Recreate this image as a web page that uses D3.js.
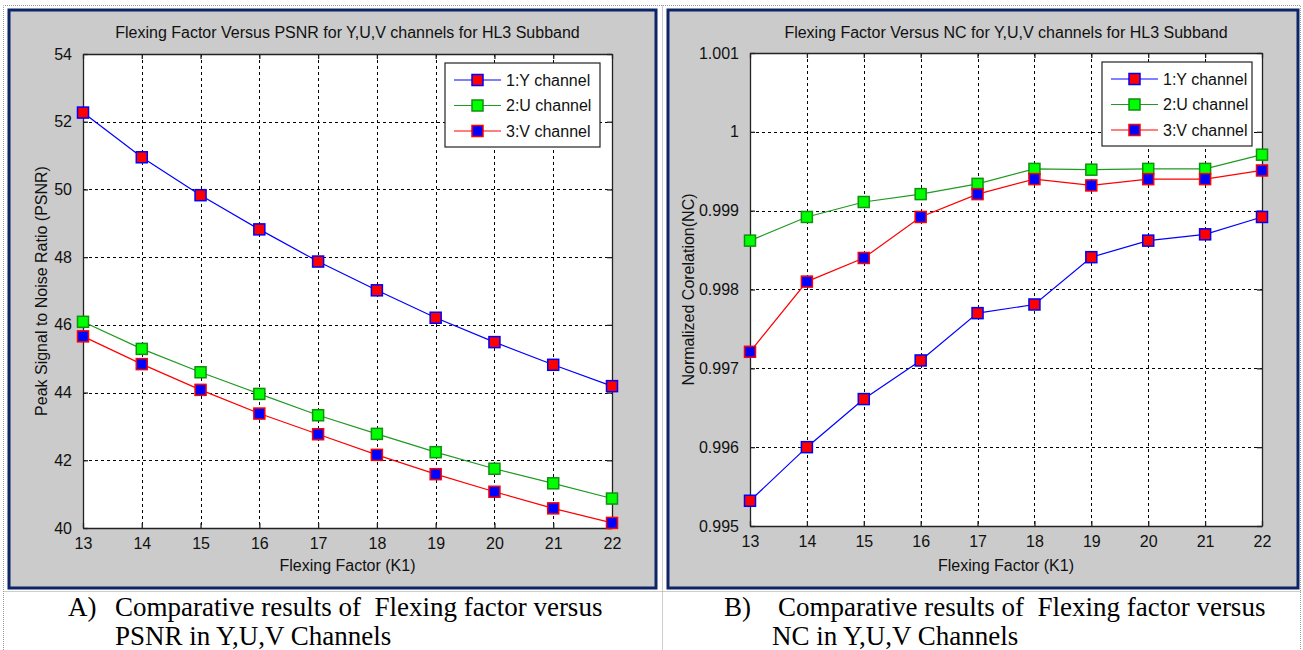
<!DOCTYPE html>
<meta charset="utf-8">
<style>
body { margin: 0; background: #fff; }
svg text { font-family: "Liberation Sans", Arial, sans-serif; fill: #111; }
.cap { font-family: "Liberation Serif", "Times New Roman", serif; font-size: 27px; fill: #000; white-space: pre; }
.grid line { stroke: #000; stroke-dasharray: 3,3; stroke-width: 1; }
</style>
<body>
<svg id="fig" width="1303" height="650"></svg>
<script src="https://d3js.org/d3.v7.min.js"></script>
<script>
var factors = [13, 14, 15, 16, 17, 18, 19, 20, 21, 22];

var psnrY = [52.27, 50.95, 49.83, 48.82, 47.87, 47.02, 46.21, 45.49, 44.82, 44.19];
var psnrU = [46.09, 45.29, 44.60, 43.96, 43.33, 42.78, 42.24, 41.75, 41.32, 40.87];
var psnrV = [45.66, 44.84, 44.08, 43.38, 42.77, 42.16, 41.59, 41.07, 40.58, 40.15];

var ncY = [0.99532, 0.99600, 0.99661, 0.99710, 0.99770, 0.99781, 0.99841, 0.99862, 0.99870, 0.99892];
var ncU = [0.99862, 0.99892, 0.99911, 0.99921, 0.99934, 0.99953, 0.99952, 0.99953, 0.99953, 0.99971];
var ncV = [0.99721, 0.99810, 0.99840, 0.99892, 0.99921, 0.99940, 0.99932, 0.99940, 0.99940, 0.99951];

var psnrTicks = [40, 42, 44, 46, 48, 50, 52, 54];
var ncTicks = [0.995, 0.996, 0.997, 0.998, 0.999, 1, 1.001];
var ncTickLabels = ["0.995", "0.996", "0.997", "0.998", "0.999", "1", "1.001"];

var seriesNames = ["1:Y channel", "2:U channel", "3:V channel"];
var lineColors = ["#0000ff", "#1f9a1f", "#ff0000"];
var faceColors = ["#ff0000", "#00ff00", "#0000ff"];
var edgeColors = ["#0000ff", "#119011", "#ff0000"];

var svg = d3.select("#fig");

// table-like dotted borders around the figure
var dots = svg.append("g").attr("stroke", "#9a9a9a").attr("stroke-dasharray", "1,1").attr("fill", "none");
dots.append("path").attr("d", "M3.5,650 V5.5 H1300.5 V650");
dots.append("path").attr("d", "M662.5,5.5 V650");
dots.append("path").attr("d", "M3.5,591.5 H1300.5");

function drawPanel(p) {
	// gray matlab figure with navy frame
	svg.append("rect")
		.attr("x", p.fx).attr("y", 10).attr("width", p.fw).attr("height", 578)
		.attr("fill", "#cbcbcb").attr("stroke", "#0d2466").attr("stroke-width", 3);

	var x = d3.scaleLinear().domain([13, 22]).range([p.left, p.right]);
	var y = d3.scaleLinear().domain(p.domain).range([p.bottom, p.top]);

	var g = svg.append("g");
	g.append("rect")
		.attr("x", p.left).attr("y", p.top)
		.attr("width", p.right - p.left).attr("height", p.bottom - p.top)
		.attr("fill", "#fff");

	// grid
	var grid = g.append("g").attr("class", "grid");
	grid.selectAll(".gx").data(factors.slice(1, -1)).enter().append("line")
		.attr("x1", function(d) { return Math.round(x(d)) + 0.5; })
		.attr("x2", function(d) { return Math.round(x(d)) + 0.5; })
		.attr("y1", p.top).attr("y2", p.bottom);
	grid.selectAll(".gy").data(p.ticks.slice(1, -1)).enter().append("line")
		.attr("y1", function(d) { return Math.round(y(d)) + 0.5; })
		.attr("y2", function(d) { return Math.round(y(d)) + 0.5; })
		.attr("x1", p.left).attr("x2", p.right);

	// axes, ticks inside on all four sides
	var fmt = function(d, i) { return p.labels[p.ticks.indexOf(d)]; };
	var ax = [
		d3.axisBottom(x).tickValues(factors).tickSizeInner(-5).tickSizeOuter(0).tickPadding(10),
		d3.axisTop(x).tickValues(factors).tickSizeInner(-5).tickSizeOuter(0).tickFormat(""),
		d3.axisLeft(y).tickValues(p.ticks).tickSizeInner(-5).tickSizeOuter(0).tickPadding(11).tickFormat(fmt),
		d3.axisRight(y).tickValues(p.ticks).tickSizeInner(-5).tickSizeOuter(0).tickFormat("")
	];
	var pos = ["translate(0," + p.bottom + ")", "translate(0," + p.top + ")",
		"translate(" + p.left + ",0)", "translate(" + p.right + ",0)"];
	ax.forEach(function(a, i) {
		var ag = g.append("g").attr("transform", pos[i]).call(a);
		ag.selectAll("path,line").attr("stroke", "#222").attr("stroke-width", 1.3);
		ag.selectAll("text").style("font-size", "16px").attr("fill", "#111");
	});

	// lines and markers
	p.series.forEach(function(vals, k) {
		var line = d3.line().x(function(d, i) { return x(factors[i]); }).y(function(d) { return y(d); });
		g.append("path").datum(vals).attr("d", line)
			.attr("fill", "none").attr("stroke", lineColors[k]).attr("stroke-width", 1.2);
		g.selectAll(".m" + k).data(vals).enter().append("rect")
			.attr("x", function(d, i) { return x(factors[i]) - 5.5; })
			.attr("y", function(d) { return y(d) - 5.5; })
			.attr("width", 11).attr("height", 11)
			.attr("fill", faceColors[k]).attr("stroke", edgeColors[k]).attr("stroke-width", 1.5);
	});

	// legend
	var lg = g.append("g").attr("transform", "translate(" + p.legX + "," + (p.top + 9) + ")");
	lg.append("rect").attr("width", p.legW).attr("height", 84)
		.attr("fill", "#fff").attr("stroke", "#222").attr("stroke-width", 1.2);
	seriesNames.forEach(function(name, k) {
		var yy = 17 + k * 25.5;
		lg.append("line").attr("x1", 9).attr("x2", 56).attr("y1", yy).attr("y2", yy)
			.attr("stroke", lineColors[k]).attr("stroke-width", 1.2);
		lg.append("rect").attr("x", 27).attr("y", yy - 5.5).attr("width", 11).attr("height", 11)
			.attr("fill", faceColors[k]).attr("stroke", edgeColors[k]).attr("stroke-width", 1.5);
		lg.append("text").attr("x", 61).attr("y", yy).attr("dy", "0.36em")
			.style("font-size", "16px").text(name);
	});

	// title and axis labels
	var cx = (p.left + p.right) / 2;
	svg.append("text").attr("x", cx).attr("y", 38).attr("text-anchor", "middle")
		.style("font-size", "16px").text(p.title);
	svg.append("text").attr("x", cx).attr("y", 571).attr("text-anchor", "middle")
		.style("font-size", "16px").text("Flexing Factor (K1)");
	svg.append("text").attr("transform", "translate(" + p.ylx + "," + ((p.top + p.bottom) / 2) + ") rotate(-90)")
		.attr("text-anchor", "middle").style("font-size", "16px").text(p.ylabel);

	// caption
	svg.append("text").attr("class", "cap").attr("x", p.capX).attr("y", 616).text(p.cap1a);
	svg.append("text").attr("class", "cap").attr("x", p.capX2).attr("y", 616).text(p.cap1b);
	svg.append("text").attr("class", "cap").attr("x", p.capX3).attr("y", 645).text(p.cap2);
}

drawPanel({
	fx: 9, fw: 647, left: 83, right: 612, top: 54, bottom: 528,
	domain: [40, 54], ticks: psnrTicks, labels: psnrTicks.map(String),
	series: [psnrY, psnrU, psnrV],
	legX: 445, legW: 155,
	title: "Flexing Factor Versus PSNR for Y,U,V channels for HL3 Subband",
	ylabel: "Peak Signal to Noise Ratio (PSNR)", ylx: 47,
	capX: 68, capX2: 115, capX3: 115,
	cap1a: "A)", cap1b: "Comparative results of  Flexing factor versus", cap2: "PSNR in Y,U,V Channels"
});

drawPanel({
	fx: 668, fw: 630, left: 750, right: 1262, top: 53, bottom: 526,
	domain: [0.995, 1.001], ticks: ncTicks, labels: ncTickLabels,
	series: [ncY, ncU, ncV],
	legX: 1102, legW: 150,
	title: "Flexing Factor Versus NC for Y,U,V channels for HL3 Subband",
	ylabel: "Normalized Corelation(NC)", ylx: 694,
	capX: 724, capX2: 778, capX3: 772,
	cap1a: "B)", cap1b: "Comparative results of  Flexing factor versus", cap2: "NC in Y,U,V Channels"
});
</script>
</body>
